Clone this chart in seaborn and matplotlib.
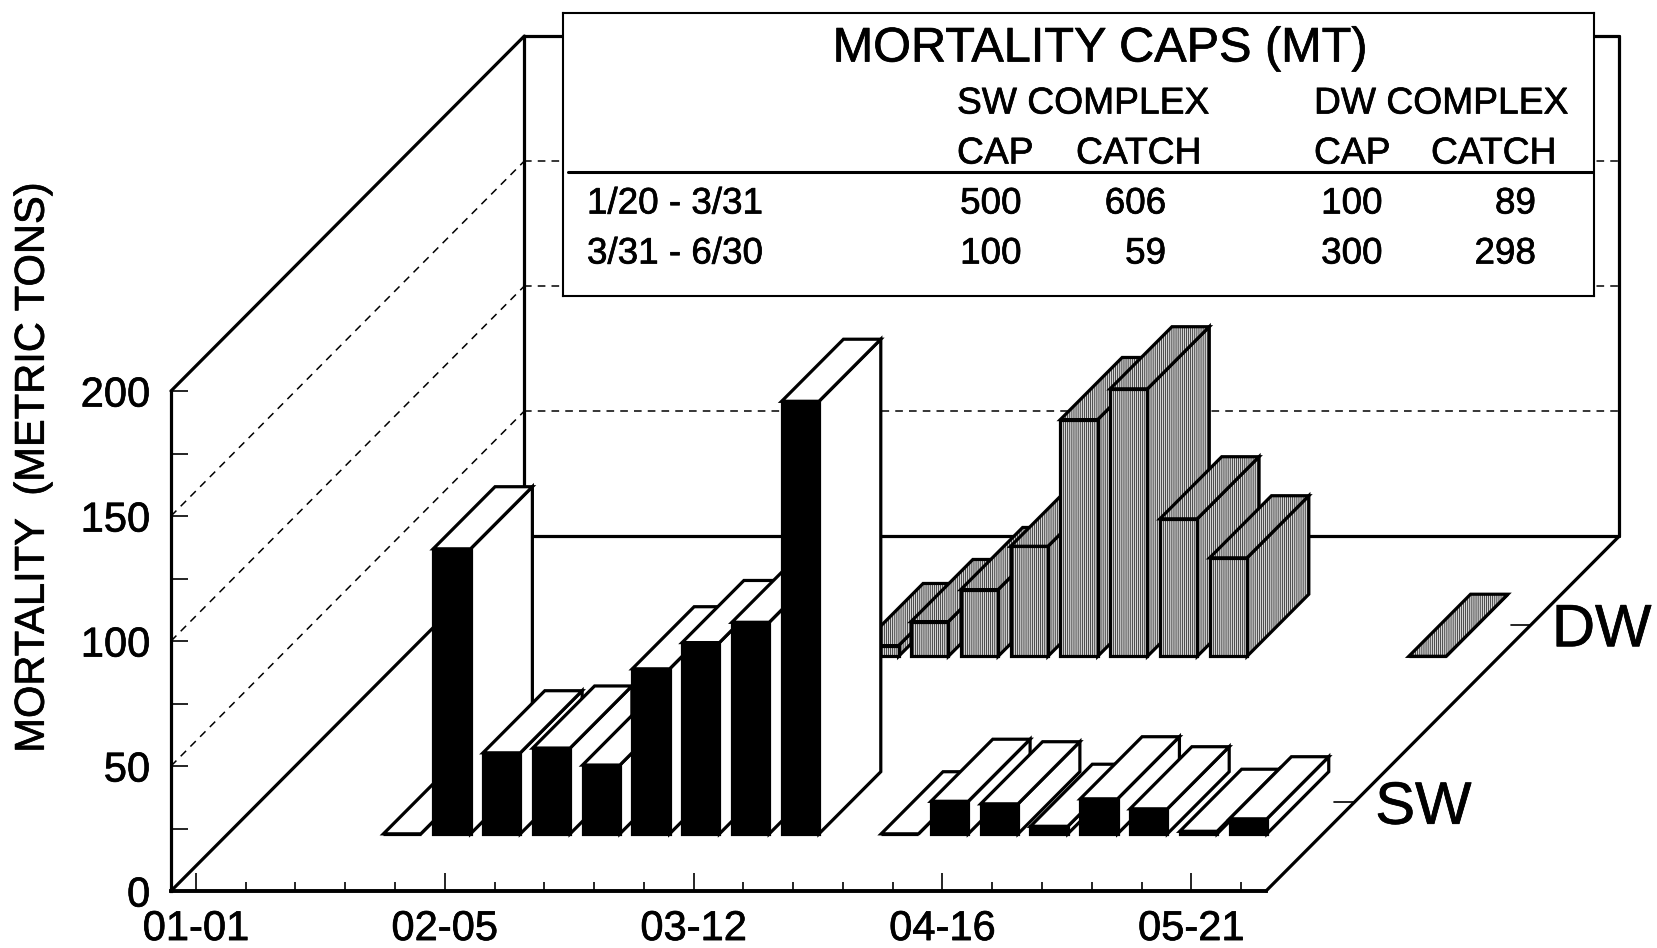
import matplotlib
matplotlib.use("Agg")
import matplotlib.pyplot as plt
import matplotlib.patheffects as pe
from matplotlib.patches import Polygon
from matplotlib.transforms import Affine2D
import pandas as pd
import seaborn as sns

# catch per week, week 0 = 01-01
sw_weeks = [3, 4, 5, 6, 7, 8, 9, 10, 11, 13, 14, 15, 16, 17, 18, 19, 20]
sw_catch = [0, 114, 32.4, 34.3, 27.5, 66, 76.5, 84.6, 173, 0, 13, 12, 3, 14, 10, 1, 6]
dw_weeks = [9, 10, 11, 12, 13, 14, 15, 16, 20]
dw_catch = [4.3, 13.9, 26.7, 44, 94.7, 107, 55, 39.4, 0]

date_ticks = [0, 5, 10, 15, 20]
date_labels = ["01-01", "02-05", "03-12", "04-16", "05-21"]
value_ticks = [0, 50, 100, 150, 200]

periods = ["1/20 - 3/31", "3/31 - 6/30"]
sw_cap = ["500", "100"]
sw_total = ["606", "59"]
dw_cap = ["100", "300"]
dw_total = ["89", "298"]

sns.set_style("white")
plt.rcParams["font.family"] = ["Liberation Sans", "DejaVu Sans"]
plt.rcParams["hatch.linewidth"] = 0.45
plt.rcParams["text.color"] = "black"
plt.rcParams["axes.labelcolor"] = "black"
plt.rcParams["xtick.labelcolor"] = "black"
plt.rcParams["ytick.labelcolor"] = "black"
# the scan prints a bit heavier than the plain font
heavy = [pe.withStroke(linewidth=0.5, foreground="black")]

fig = plt.figure(figsize=(16.57, 9.48), dpi=100)
W, H = 1657, 948
ax = fig.add_axes([171 / W, 1 - 891 / H, 1095 / W, 500 / H])

# oblique depth, in data units for depth = 1
DX = 7.1
DY = 142
BAR_W = 0.75
LW = 2.3


def proj(x, d, v):
    return x + d * DX, v + d * DY


def line3(p0, p1, **kw):
    a = proj(*p0)
    b = proj(*p1)
    ax.plot([a[0], b[0]], [a[1], b[1]], color="black", clip_on=False, **kw)


def draw_sides(weeks, values, d0, d1, off, face, hatch, z):
    for w, v in zip(weeks, values):
        r = w + off + BAR_W / 2
        l = w + off - BAR_W / 2
        side = [proj(r, d0, 0), proj(r, d1, 0), proj(r, d1, v), proj(r, d0, v)]
        top = [proj(l, d0, v), proj(r, d0, v), proj(r, d1, v), proj(l, d1, v)]
        for pts in (side, top):
            ax.add_patch(Polygon(pts, closed=True, facecolor=face, edgecolor="black",
                                 hatch=hatch, lw=LW, clip_on=False, zorder=z + w))


def draw_fronts(weeks, values, d0, off, face, hatch, z):
    df = pd.DataFrame({"week": weeks, "catch": values})
    n = len(ax.patches)
    sns.barplot(data=df, x="week", y="catch", native_scale=True, width=BAR_W, color=face,
                saturation=1, edgecolor="black", linewidth=LW, errorbar=None, ax=ax)
    shift = Affine2D().translate(off + d0 * DX, d0 * DY)
    bars = [p for p in ax.patches[n:]]
    for bar, w in zip(bars, weeks):
        bar.set_transform(shift + ax.transData)
        bar.set_hatch(hatch)
        bar.set_clip_on(False)
        bar.set_zorder(z + w + 0.5)


# depth band of each complex
sw_d0, sw_d1 = 0.161, 0.336
dw_d0, dw_d1 = 0.661, 0.836
sw_off, dw_off = 0.0, 0.05
gray = "#d4d4d4"
stripes = "||||||||"

draw_sides(dw_weeks, dw_catch, dw_d0, dw_d1, dw_off, gray, stripes, 10)
draw_fronts(dw_weeks, dw_catch, dw_d0, dw_off, gray, stripes, 10)
draw_sides(sw_weeks, sw_catch, sw_d0, sw_d1, sw_off, "white", None, 50)
draw_fronts(sw_weeks, sw_catch, sw_d0, sw_off, "black", None, 50)

ax.set_xlim(-0.5, 21.5)
ax.set_ylim(0, 200)

# box walls
x0, x1 = -0.5, 21.5
wall = 2.3
line3((x0, 0, 0), (x0, 1, 0), lw=wall, zorder=2)
line3((x1, 0, 0), (x1, 1, 0), lw=wall, zorder=2)
line3((x0, 1, 0), (x1, 1, 0), lw=wall, zorder=2)
line3((x0, 1, 0), (x0, 1, 200), lw=wall, zorder=2)
line3((x1, 1, 0), (x1, 1, 200), lw=wall, zorder=2)
line3((x0, 1, 200), (x1, 1, 200), lw=wall, zorder=2)
line3((x0, 0, 200), (x0, 1, 200), lw=wall, zorder=2)
for v in [50, 100, 150]:
    line3((x0, 0, v), (x0, 1, v), lw=1.1, ls=(0, (5, 4)), zorder=1)
    line3((x0, 1, v), (x1, 1, v), lw=1.1, ls=(0, (5, 4)), zorder=1)

# axes proper
sns.despine(ax=ax, top=True, right=True)
for s in ("left", "bottom"):
    ax.spines[s].set_color("black")
ax.spines["left"].set_linewidth(2.3)
ax.spines["bottom"].set_linewidth(2.8)
ax.set_xticks(date_ticks, date_labels, fontsize=30)
ax.set_xticks(range(22), minor=True)
ax.set_yticks(value_ticks)
ax.set_yticklabels(value_ticks, fontsize=30)
ax.set_yticks(range(0, 201, 25), minor=True)
ax.tick_params(axis="x", which="major", direction="in", length=13, width=1.2, color="black", pad=13, bottom=True)
ax.tick_params(axis="x", which="minor", direction="in", length=6.5, width=1.2, color="black", bottom=True)
ax.tick_params(axis="y", which="both", direction="in", length=12, width=1.2, color="black", pad=15, left=True)
ax.set_xlabel("")
ax.set_ylabel("MORTALITY  (METRIC TONS)", fontsize=30)
ax.yaxis.set_label_coords(-0.108, 0.846)
ax.patch.set_alpha(0)
for t in ax.get_xticklabels() + ax.get_yticklabels() + [ax.yaxis.label]:
    t.set_path_effects(heavy)

# complex ticks and names on the right edge
for name, d in [("SW", 0.25), ("DW", 0.75)]:
    px, py = proj(x1, d, 0)
    ax.plot([px - 0.4, px], [py, py], color="black", lw=1.2, clip_on=False, zorder=3)
    ax.text(px + 0.42, py - 2.4, name, fontsize=43, va="center", ha="left", clip_on=False,
            path_effects=heavy)

# caps table, laid out in figure pixels
box = fig.add_axes([563 / W, 1 - 296 / H, 1031 / W, 283 / H], zorder=5)
box.set_xlim(563, 1594)
box.set_ylim(296, 13)
box.set_xticks([])
box.set_yticks([])
box.set_facecolor("white")
for s in box.spines.values():
    s.set_visible(True)
    s.set_linewidth(1.5)
    s.set_color("black")


def cell(x, y, t, size, ha="left"):
    box.text(x, y, t, fontsize=size, ha=ha, va="center", path_effects=heavy)


cell(1100, 49, "MORTALITY CAPS (MT)", 35, ha="center")
cell(957, 104, "SW COMPLEX", 26.8)
cell(1314, 104, "DW COMPLEX", 26.8)
for x, t in [(957, "CAP"), (1076, "CATCH"), (1314, "CAP"), (1431, "CATCH")]:
    cell(x, 154, t, 26.8)
box.plot([568, 1594], [172, 172], color="black", lw=2.2)
for y, p, a, b, c, d in zip([204, 254], periods, sw_cap, sw_total, dw_cap, dw_total):
    cell(587, y, p, 26.5)
    cell(1021, y, a, 26.5, ha="right")
    cell(1166, y, b, 26.5, ha="right")
    cell(1382, y, c, 26.5, ha="right")
    cell(1536, y, d, 26.5, ha="right")

fig.savefig("out.png", dpi=100)
